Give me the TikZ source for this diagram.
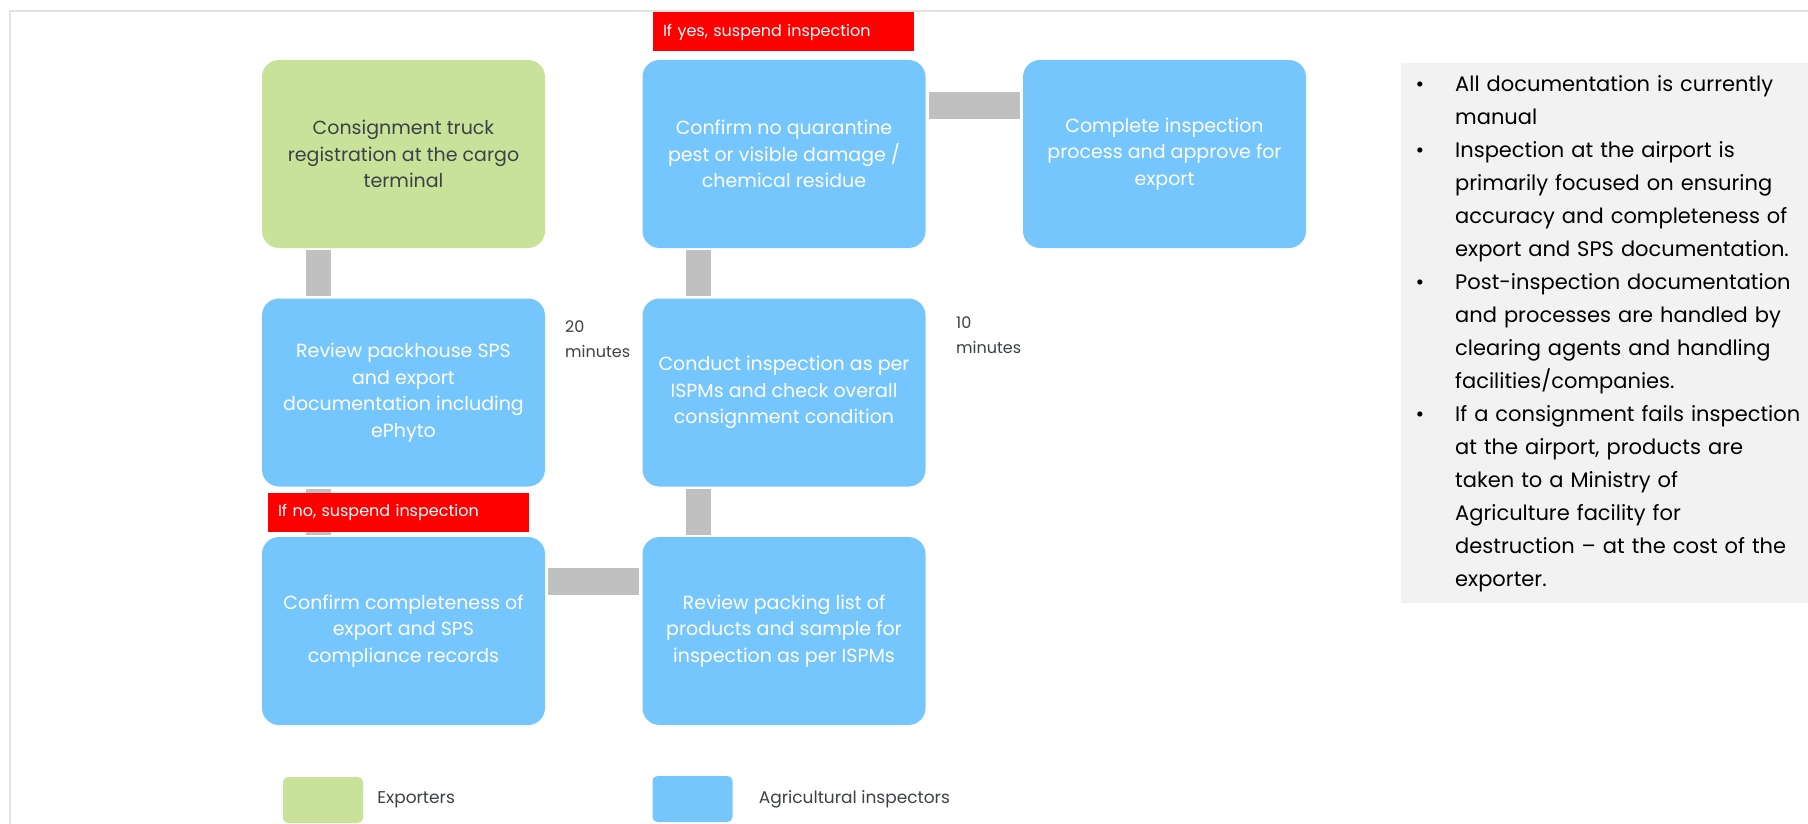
\documentclass[tikz,border=0pt]{standalone}
\usepackage{fontspec}
\setmainfont{Poppins}
\usetikzlibrary{positioning}

\definecolor{exportgreen}{HTML}{C8E29A}
\definecolor{inspectblue}{HTML}{76C6FE}
\definecolor{linkgray}{HTML}{C0C0C0}
\definecolor{notegray}{HTML}{F2F2F2}
\definecolor{textgray}{HTML}{3C4146}
\definecolor{framegray}{HTML}{E3E3E3}

\tikzset{
	stepbox/.style={rounded corners=17pt, minimum width=283pt, minimum height=188pt, align=center, inner sep=0pt, font=\fontsize{19}{26.5}\selectfont},
	agri/.style={stepbox, fill=inspectblue, text=white},
	expo/.style={stepbox, fill=exportgreen, text=textgray},
	vlink/.style={draw=linkgray, line width=25pt, shorten <=2pt, shorten >=2pt},
	hlink/.style={draw=linkgray, line width=27pt, shorten <=3pt, shorten >=3pt},
	warn/.style={fill=red, text=white, text width=241pt, minimum height=39pt, inner xsep=10pt, align=left, font=\fontsize{16}{18}\selectfont},
	timing/.style={anchor=west, inner sep=0pt, align=left, text=textgray, font=\fontsize{16}{25}\selectfont},
	legendkey/.style={rounded corners=5pt, minimum width=80pt, minimum height=46pt, inner sep=0pt},
	legendtext/.style={inner sep=0pt, text=textgray, font=\fontsize{17}{19}\selectfont},
}

\begin{document}
\begin{tikzpicture}[x=1pt, y=-1pt]
	\useasboundingbox (0,0) rectangle (1808,824);
	\draw[framegray, line width=2pt] (10,824) -- (10,11) -- (1808,11);
	
	% process steps
	\node[expo] (truck) at (403.5,154) {Consignment truck\\registration at the cargo\\terminal};
	\node[agri] (packhouse) at (403.5,392.5) {Review packhouse SPS\\and export\\documentation including\\ePhyto};
	\node[agri] (records) at (403.5,631) {Confirm completeness of\\export and SPS\\compliance records};
	\node[agri] (packing) at (784,631) {Review packing list of\\products and sample for\\inspection as per ISPMs};
	\node[agri] (conduct) at (784,392.5) {Conduct inspection as per\\ISPMs and check overall\\consignment condition};
	\node[agri] (confirm) at (784,154) {Confirm no quarantine\\pest or visible damage /\\chemical residue};
	\node[agri] (complete) at (1164.5,154) {Complete inspection\\process and approve for\\export};
	
	\draw[vlink] ([xshift=56.5pt]truck.south west) -- ([xshift=56.5pt]packhouse.north west);
	\draw[vlink] ([xshift=56.5pt]packhouse.south west) -- ([xshift=56.5pt]records.north west);
	\draw[hlink] ([yshift=-45pt]records.north east) -- ([yshift=-45pt]packing.north west);
	\draw[vlink] ([xshift=56.5pt]packing.north west) -- ([xshift=56.5pt]conduct.south west);
	\draw[vlink] ([xshift=56.5pt]conduct.north west) -- ([xshift=56.5pt]confirm.south west);
	\draw[hlink] ([yshift=-45.5pt]confirm.north east) -- ([yshift=-45.5pt]complete.north west);
	
	\node[warn] (ifyes) at (783.5,32) {If yes, suspend inspection};
	\node[warn] (ifno) at (398.5,512) {If no, suspend inspection};
	
	\node[timing] (twenty) at (565,339) {20\\minutes};
	\node[timing] (ten) at (956,335) {10\\minutes};
	
	% notes
	\fill[notegray] (1401,63) rectangle (1808,603);
	\node[anchor=north west, inner sep=0pt, text width=407pt, text=black, font=\fontsize{21}{33}\selectfont] (notes) at (1401,58) {%
		\raggedright
		\begin{list}{\textbullet}{\setlength{\leftmargin}{54pt}\setlength{\labelsep}{31pt}\setlength{\labelwidth}{20pt}%
			\setlength{\topsep}{0pt}\setlength{\partopsep}{0pt}\setlength{\itemsep}{0pt}\setlength{\parsep}{0pt}}
			\item All documentation is currently\\manual
			\item Inspection at the airport is\\primarily focused on ensuring\\accuracy and completeness of\\export and SPS documentation.
			\item Post-inspection documentation\\and processes are handled by\\clearing agents and handling\\facilities/companies.
			\item If a consignment fails inspection\\at the airport, products are\\taken to a Ministry of\\Agriculture facility for\\destruction -- at the cost of the\\exporter.
		\end{list}};
	
	% legend
	\node[legendkey, fill=exportgreen] (keyexp) at (323,800) {};
	\node[legendtext, right=14pt of keyexp] (labexp) {Exporters};
	\node[legendkey, fill=inspectblue] (keyagri) at (692.5,799) {};
	\node[legendtext, right=26pt of keyagri] (labagri) {Agricultural inspectors};
	
\end{tikzpicture}
\end{document}
